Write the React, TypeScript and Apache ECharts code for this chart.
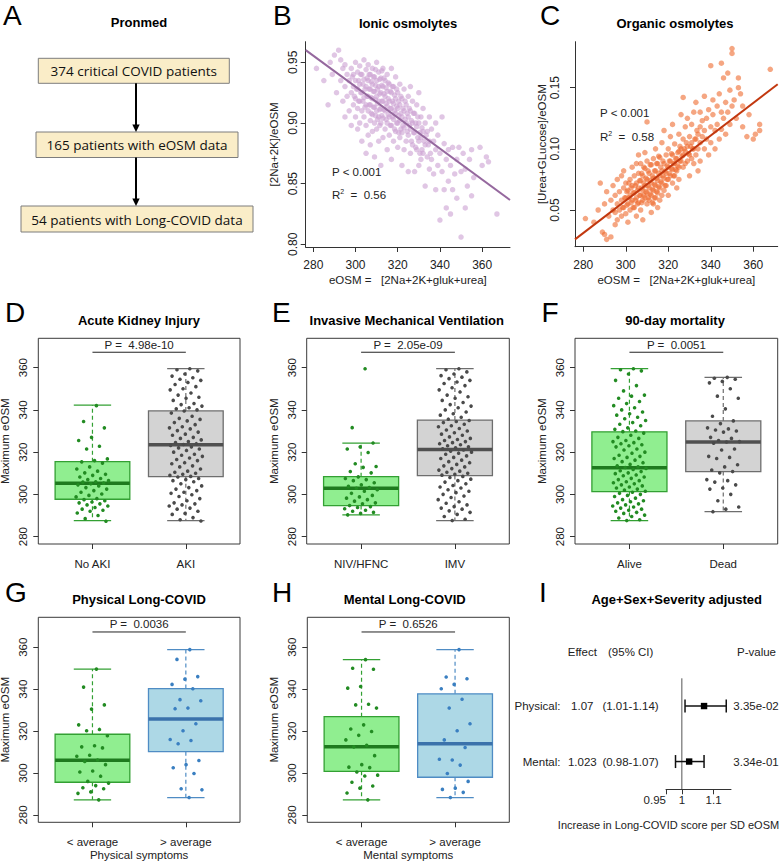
import React, { useEffect, useRef } from "react";
import * as echarts from "echarts";

const FONT = '"Liberation Sans", Arial, Helvetica, sans-serif';
const TXT = "#222222";

// ---------- Panel A ----------
const flowSteps = ["374 critical COVID patients", "165 patients with eOSM data", "54 patients with Long-COVID data"];
const panelLetters = ["A", "B", "C", "D", "E", "F", "G", "H", "I"];
const panelTitles = [
  "Pronmed",
  "Ionic osmolytes",
  "Organic osmolytes",
  "Acute Kidney Injury",
  "Invasive Mechanical Ventilation",
  "90-day mortality",
  "Physical Long-COVID",
  "Mental Long-COVID",
  "Age+Sex+Severity adjusted",
];

// ---------- Panels B, C ----------
const eosmTicks = [280, 300, 320, 340, 360];
const ionicTicks = [0.8, 0.85, 0.9, 0.95];
const organicTicks = [0.05, 0.1, 0.15];
const eosmAxisName = "eOSM =   [2Na+2K+gluk+urea]";
const ionicYName = "[2Na+2K]/eOSM";
const organicYName = "[Urea+GLucose]/eOSM";

const ionicPoints: number[][] = [
  [281.5,0.945],[285,0.935],[287,0.915],[288,0.95],[289,0.94],[290,0.956],[291,0.925],[292,0.96],[293,0.952],[293,0.935],[294,0.945],[294,0.918],[295,0.93],[295,0.948],[295,0.905],[296,0.94],[296,0.922],
  [297,0.935],[297,0.91],[298,0.945],[298,0.925],[298,0.898],[299,0.94],[299,0.93],[299,0.915],[300,0.95],[300,0.935],[300,0.92],[300,0.905],[301,0.942],[301,0.928],[301,0.912],[301,0.895],[302,0.947],[302,0.932],[302,0.918],[302,0.9],[303,0.94],[303,0.925],[303,0.91],[303,0.885],[304,0.952],[304,0.936],[304,0.921],[304,0.905],[305,0.944],[305,0.93],[305,0.915],[305,0.898],[305,0.875],
  [306,0.948],[306,0.935],[306,0.922],[306,0.91],[306,0.89],[307,0.94],[307,0.928],[307,0.915],[307,0.902],[307,0.882],[308,0.945],[308,0.932],[308,0.92],[308,0.907],[308,0.893],[309,0.938],[309,0.926],[309,0.913],[309,0.9],[309,0.872],[310,0.95],[310,0.935],[310,0.922],[310,0.91],[310,0.895],[311,0.942],[311,0.93],[311,0.918],[311,0.905],[311,0.885],[312,0.937],[312,0.925],[312,0.912],[312,0.9],[312,0.865],[313,0.945],[313,0.93],[313,0.918],[313,0.904],[313,0.888],[314,0.935],[314,0.922],[314,0.91],[314,0.895],[315,0.94],[315,0.926],[315,0.914],[315,0.9],[315,0.878],
  [316,0.932],[316,0.918],[316,0.905],[316,0.89],[317,0.945],[317,0.925],[317,0.912],[317,0.898],[317,0.87],[318,0.93],[318,0.916],[318,0.903],[318,0.885],[319,0.938],[319,0.92],[319,0.908],[319,0.893],[320,0.925],[320,0.912],[320,0.9],[320,0.88],[321,0.932],[321,0.915],[321,0.902],[321,0.888],[322,0.92],[322,0.905],[322,0.892],[322,0.865],[323,0.928],[323,0.91],[323,0.896],[323,0.878],[324,0.915],[324,0.9],[324,0.885],[325,0.922],[325,0.905],[325,0.89],[325,0.86],
  [326,0.93],[326,0.91],[326,0.895],[326,0.875],[327,0.918],[327,0.9],[327,0.882],[328,0.908],[328,0.892],[328,0.86],[329,0.915],[329,0.897],[329,0.878],[330,0.925],[330,0.9],[330,0.885],[330,0.865],[331,0.905],[331,0.888],[331,0.87],[332,0.912],[332,0.893],[332,0.875],[333,0.9],[333,0.882],[333,0.848],[334,0.893],[334,0.872],[335,0.905],[335,0.885],[335,0.862],
  [336,0.895],[336,0.87],[337,0.885],[337,0.858],[338,0.9],[338,0.878],[338,0.845],[339,0.89],[339,0.865],[340,0.875],[340,0.82],[341,0.905],[341,0.86],[342,0.883],[342,0.845],[343,0.87],[343,0.83],[344,0.878],[344,0.852],[345,0.865],[345,0.825],
  [346,0.88],[346,0.845],[347,0.858],[348,0.87],[348,0.838],[349,0.88],[350,0.806],[350,0.86],[351,0.875],[352,0.83],[352,0.862],[353,0.848],[354,0.87],[355,0.878],[355,0.84],[356,0.855],[359,0.88],[360,0.865],[362,0.872],[363,0.868],[367,0.825],
  [298.5,0.938],[299.5,0.922],[300.5,0.928],[301.5,0.935],[301.5,0.918],[302.5,0.925],[302.5,0.94],[303.5,0.932],[303.5,0.918],[304.5,0.928],[304.5,0.913],[305.5,0.937],[305.5,0.922],[306.5,0.928],[306.5,0.94],[306.5,0.915],[307.5,0.934],[307.5,0.921],[307.5,0.908],[308.5,0.938],[308.5,0.926],[308.5,0.913],[309.5,0.944],[309.5,0.931],[309.5,0.919],[309.5,0.906],[310.5,0.928],[310.5,0.916],[310.5,0.903],[311.5,0.936],[311.5,0.924],[311.5,0.911],[311.5,0.898],[312.5,0.943],[312.5,0.931],[312.5,0.918],[312.5,0.906],[313.5,0.937],[313.5,0.924],[313.5,0.911],[314.5,0.929],[314.5,0.916],[314.5,0.903],[315.5,0.933],[315.5,0.92],[315.5,0.907],[316.5,0.926],[316.5,0.912],[316.5,0.898],[317.5,0.93],[317.5,0.918],[317.5,0.905],[318.5,0.923],[318.5,0.91],[318.5,0.895],[319.5,0.928],[319.5,0.914],[319.5,0.9],[320.5,0.918],[320.5,0.906],[320.5,0.892],[321.5,0.922],[321.5,0.908],[321.5,0.895],[322.5,0.912],[322.5,0.898],[323.5,0.918],[323.5,0.903],[324.5,0.908],[324.5,0.893],[325.5,0.912],[325.5,0.898],[326.5,0.902],[326.5,0.885],[327.5,0.908],[327.5,0.892],[328.5,0.9],[328.5,0.88],[329.5,0.888],[329.5,0.905],[330.5,0.892],[330.5,0.875],[331.5,0.896],[331.5,0.878],[332.5,0.885],[333.5,0.89],[334.5,0.882],[335.5,0.875],
];

const organicPoints: number[][] = [
  [281,0.043],[285,0.04],[287,0.05],[288,0.072],[289,0.032],[290,0.03],[290,0.055],[291,0.026],[291,0.065],[292,0.045],[293,0.028],[293,0.058],[294,0.05],[294,0.07],[295,0.038],[295,0.062],[295,0.048],
  [296,0.055],[296,0.075],[296,0.042],[297,0.065],[297,0.05],[298,0.058],[298,0.078],[298,0.045],[299,0.068],[299,0.052],[299,0.082],[300,0.06],[300,0.047],[300,0.072],[301,0.055],[301,0.066],[301,0.04],[302,0.062],[302,0.075],[302,0.05],[303,0.058],[303,0.07],[303,0.085],[304,0.052],[304,0.064],[304,0.078],[305,0.06],[305,0.072],[305,0.045],[305,0.088],
  [306,0.056],[306,0.068],[306,0.08],[306,0.095],[307,0.062],[307,0.074],[307,0.05],[307,0.088],[308,0.066],[308,0.058],[308,0.078],[308,0.042],[309,0.07],[309,0.06],[309,0.084],[309,0.097],[310,0.064],[310,0.075],[310,0.055],[310,0.122],[310,0.09],[311,0.068],[311,0.08],[311,0.058],[312,0.072],[312,0.062],[312,0.087],[312,0.048],[313,0.076],[313,0.066],[313,0.092],[313,0.055],[314,0.07],[314,0.082],[314,0.06],[314,0.1],[315,0.074],[315,0.064],[315,0.088],[315,0.052],
  [316,0.078],[316,0.068],[316,0.093],[316,0.058],[317,0.082],[317,0.072],[317,0.105],[317,0.062],[318,0.076],[318,0.088],[318,0.066],[318,0.115],[319,0.08],[319,0.095],[319,0.07],[320,0.085],[320,0.075],[320,0.1],[320,0.062],[321,0.09],[321,0.078],[321,0.11],[322,0.083],[322,0.095],[322,0.072],[322,0.12],[323,0.088],[323,0.078],[323,0.104],[324,0.092],[324,0.082],[324,0.068],[325,0.098],[325,0.085],[325,0.112],[325,0.075],
  [326,0.09],[326,0.1],[326,0.128],[327,0.095],[327,0.085],[327,0.142],[327,0.108],[328,0.098],[328,0.088],[328,0.118],[329,0.102],[329,0.09],[329,0.125],[330,0.095],[330,0.11],[330,0.078],[331,0.105],[331,0.12],[331,0.092],[332,0.1],[332,0.13],[332,0.088],[333,0.108],[333,0.095],[333,0.138],[334,0.112],[334,0.1],[334,0.082],[335,0.118],[335,0.105],[335,0.09],[335,0.13],
  [336,0.11],[336,0.123],[337,0.143],[337,0.1],[337,0.115],[338,0.125],[338,0.108],[339,0.132],[339,0.095],[340,0.168],[340,0.118],[340,0.105],[341,0.128],[341,0.14],[342,0.115],[342,0.1],[343,0.135],[343,0.12],[344,0.145],[344,0.108],[345,0.17],[345,0.13],[345,0.116],
  [346,0.158],[346,0.125],[347,0.138],[347,0.112],[348,0.162],[348,0.13],[349,0.148],[349,0.12],[350,0.182],[350,0.178],[350,0.135],[351,0.14],[352,0.125],[353,0.158],[353,0.15],[354,0.145],[355,0.118],[355,0.135],[357,0.11],[358,0.128],[360,0.108],[361,0.112],[363,0.12],[363,0.115],[368,0.165],
  [298.5,0.052],[299.5,0.06],[300.5,0.065],[300.5,0.054],[301.5,0.06],[301.5,0.072],[302.5,0.056],[302.5,0.068],[303.5,0.064],[303.5,0.052],[304.5,0.058],[304.5,0.07],[305.5,0.066],[305.5,0.055],[306.5,0.062],[306.5,0.074],[307.5,0.056],[307.5,0.068],[307.5,0.08],[308.5,0.072],[308.5,0.062],[308.5,0.085],[309.5,0.065],[309.5,0.076],[310.5,0.07],[310.5,0.06],[310.5,0.082],[311.5,0.063],[311.5,0.074],[311.5,0.087],[312.5,0.067],[312.5,0.078],[312.5,0.056],[313.5,0.071],[313.5,0.082],[313.5,0.06],[314.5,0.076],[314.5,0.065],[314.5,0.088],[315.5,0.08],[315.5,0.069],[315.5,0.094],[316.5,0.073],[316.5,0.085],[317.5,0.078],[317.5,0.09],[318.5,0.082],[318.5,0.07],[319.5,0.086],[319.5,0.075],[320.5,0.09],[320.5,0.08],[321.5,0.084],[321.5,0.096],[322.5,0.088],[322.5,0.078],[323.5,0.092],[323.5,0.083],[324.5,0.097],[324.5,0.086],[325.5,0.09],[325.5,0.102],[326.5,0.094],[327.5,0.1],[328.5,0.105],[329.5,0.096],[330.5,0.102],[331.5,0.1],[332.5,0.108],[333.5,0.115],
];

// regression: [intercept, slope]
const ionicFit = [1.3127, -0.001276];
const organicFit = [-0.34094, 0.001329];
const ionicP = "P < 0.001";
const ionicR2 = "0.56";
const organicP = "P < 0.001";
const organicR2 = "0.58";

// ---------- Panels D - H ----------
const eosmBoxTicks = [280, 300, 320, 340, 360];
const pBracketLevel = 367.3;

const akiCats = ["No AKI", "AKI"];
const akiBoxes = [[287.6, 297.7, 305.3, 315.5, 342.3], [287.6, 308.4, 323.5, 339.5, 359.5]];
const akiNo = [342,334.5,331.5,327,325.5,322.8,321.5,316.8,316,315.4,314.8,313,312,311,310.2,309.5,309,308.2,307.5,307,306.5,306,305.8,305.3,305,304.5,304,303.2,302.5,301.8,301,300.2,299.5,298.8,298,297.5,297,296.4,296,295.5,295,294.5,293.8,293,292.5,292,291.2,290,288.5,287.3];
const akiYes = [359.5,359,358.5,357,356,355.2,354.5,354,353,352,351,350,349.5,348,347,346,345.5,344.5,343,342.5,341.8,341,340.5,340,
  339.5,338.5,337,336,335.5,334.8,334,333,332,331.5,331,330.2,329.5,328.5,328,327,326.5,325.8,325,324.5,324,323.6,
  323.2,322.5,322,321.5,320.8,320,319,318.5,318,317.2,316.5,316,315,314.5,313.5,313,312,311,310.5,310,309.5,309,308.5,
  308.2,307.5,307,306.5,306,305,304,303.2,302.5,301.8,301,300.5,299.8,299,298,297,296,295.5,295,294.5,293.5,293,292,291,290.5,289,288,287.4];
const akiP = "4.98e-10";

const imvCats = ["NIV/HFNC", "IMV"];
const imvBoxes = [[290.3, 294.7, 302.9, 308.4, 324.3], [287.6, 308.9, 321.3, 335.2, 359.5]];
const imvNo = [359.5,331.6,324.3,322.5,321.5,319.8,314.5,313.2,312.8,310.8,310.2,308.3,307.5,307,306.5,305.5,304.5,303.8,303.2,302.9,302.2,301.5,300.5,299.5,298.8,298.2,297.5,296.8,296,295.5,294.7,294.2,293.8,293.2,292.5,292,291.5,291,290.3];
const imvYes = [359.5,359,358,357,356.2,355.5,354.8,354,353.2,352.5,351.5,350.5,349.5,348.5,347,346.2,345.5,344.5,343.5,342.5,341.8,341,340,339,338.2,337.5,336.5,335.6,
  335,334.5,334,333.2,332.5,332,331.2,330.5,330,329.2,328.5,328,327.2,326.5,326,325.5,325,324.5,324,323.5,323,322.5,322,321.6,
  321,320.5,320,319.5,319,318.2,317.5,317,316.2,315.5,315,314.2,313.5,313,312.2,311.5,311,310.5,310,309.5,309.1,
  308.5,308,307.2,306.5,305.8,305,304.2,303.5,303,302.2,301.5,300.8,300,299.2,298.5,297.5,296.5,295.8,295,294.2,293.5,293,292.2,291.5,290.5,289.5,288.2,287.6];
const imvP = "2.05e-09";

const mortCats = ["Alive", "Dead"];
const mortBoxes = [[287.6, 301.3, 312.6, 329.6, 359.5], [291.8, 310.8, 324.8, 334.8, 355.4]];
const mortAlive = [359.5,359,358.5,357,354,351.5,349,347,346.5,345.5,344,343,342,341,340,339,338.2,337.5,336.5,335.8,335,334,333.2,332.5,331.5,330.8,330,329.7,
  329,328,327,326.5,325.5,325,324.5,324,323.5,323,322.5,321.5,321,320,319.5,318.5,318,317.5,317,316.2,315.5,315,314.2,313.5,313,312.7,
  312.3,311.8,311.2,310.8,310.2,309.8,309.2,308.8,308.2,307.6,307,306.5,306,305.5,305,304.5,304,303.5,303,302.5,302,301.5,
  301,300.5,300,299.5,299,298.2,297.5,297,296.5,296,295.5,295,294.5,294,293.5,293,292.5,292,291.5,291,290.2,289.5,288.8,288,287.6];
const mortDead = [355.4,355,354.5,353.5,352.8,350,346.5,345.5,340.5,337,334.8,333.5,331.5,331,330.5,330,329.5,327,326.5,325.5,325,324.8,324.2,321.5,321,318,317.5,317,314,313,311.5,310.8,310.2,307,306.5,305.8,304.5,303,302.5,300,297,294,293,291.8];
const mortP = "0.0051";

const longCats = ["< average", "> average"];
const physBoxes = [[287.2, 295.6, 306.1, 318.5, 349.6], [288.3, 310.2, 325.8, 340.3, 358.9]];
const physLow = [349.6,341,332.5,330.5,323,320.8,320.2,317.8,313,312.5,312,308.5,308,306.2,305.5,304,301,300.5,298.5,296,295.2,294,293,292.5,291,290.3,287.2];
const physHigh = [358.9,354.2,346,344.8,342.3,340.2,335,334.5,331,330.7,323.5,320.2,316,315.5,314,306,304,302.5,299.8,292.5,292,288.3];
const physP = "0.0036";
const physXName = "Physical symptoms";

const mentBoxes = [[287.2, 300.8, 312.6, 326.9, 354.1], [288.3, 298.0, 314.0, 337.8, 358.9]];
const mentLow = [354.1,350,349.5,341.3,340.5,332.8,332.5,331,323,321,319.8,318,315.8,313.2,312.5,308.3,304,302.8,302.6,300.5,299,298.6,295.6,293.8,292.8,290.5,287.2];
const mentHigh = [358.9,345.8,345,342.3,340.2,335.2,331,323.5,320.2,315.8,312.2,306.2,306.6,303.8,299.8,296,292.8,292.2,290.8,288.3];
const mentP = "0.6526";
const mentXName = "Mental symptoms";

// ---------- Panel I ----------
const forestLabels = ["Physical:", "Mental:"];
const forestEffect = [1.07, 1.023];
const forestEffectText = ["1.07", "1.023"];
const forestLow = [1.01, 0.98];
const forestHigh = [1.14, 1.07];
const forestCI = ["(1.01-1.14)", "(0.98-1.07)"];
const forestP = ["3.35e-02", "3.34e-01"];
const forestTicks = [0.95, 1, 1.1];
const forestHeader = ["Effect", "(95% CI)", "P-value"];
const forestXName = "Increase in Long-COVID score per SD eOSM";

// ---------- styling ----------
const GREEN = { fill: "#90EE90", border: "#33A033", median: "#1E7A1E", point: "#228B22" };
const GRAY = { fill: "#D3D3D3", border: "#6E6E6E", median: "#505050", point: "#4A4A4A" };
const BLUE = { fill: "#ADD8E6", border: "#4F8CC4", median: "#3B72AB", point: "#3A7FC1" };

const LAYOUT: any = {
  B: { left: 305.7, top: 41.7, width: 204.3, height: 205.3, x: [276.4, 373.2], y: [0.7978, 0.967] },
  C: { left: 575, top: 41.7, width: 202.7, height: 205, x: [276.1, 371.5], y: [0.02, 0.1876] },
  D: { left: 38.3, top: 338.3, width: 201.7, height: 205.7, y: [276.5, 373.9] },
  E: { left: 306.7, top: 338.3, width: 202.6, height: 205.7, y: [276.5, 373.9] },
  F: { left: 575, top: 338.3, width: 202.7, height: 205.7, y: [276.5, 373.9] },
  G: { left: 38.3, top: 617.3, width: 201.7, height: 205, y: [276.5, 374.3] },
  H: { left: 307.3, top: 617.3, width: 202, height: 205, y: [276.5, 374.3] },
  I: { left: 666, top: 678.3, width: 65, height: 111, x: [0.95, 1.155], y: [0, 4] },
};

const jitter = (i: number) => ((((i + 1) * 0.6180339887) % 1) - 0.5) * 0.36;

function txt(text: string, x: number, y: number, size: number, opts: any = {}) {
  const align = opts.align || "left";
  const valign = opts.valign || "middle";
  return {
    type: "text",
    x,
    y,
    silent: true,
    style: {
      text,
      font: `${opts.bold ? "bold " : ""}${size}px ${opts.font || FONT}`,
      fill: opts.color || TXT,
      align,
      verticalAlign: valign,
      textAlign: align,
      textVerticalAlign: valign,
      rich: opts.rich,
    },
  };
}

function gridOf(l: any, frame: boolean) {
  return {
    left: l.left,
    top: l.top,
    width: l.width,
    height: l.height,
    show: frame,
    borderColor: "#3a3a3a",
    borderWidth: 1,
    backgroundColor: "transparent",
    containLabel: false,
    outerBoundsMode: "none",
  };
}

const tickStyle = { color: "#333", width: 1 };

export default function App() {
  const ref = useRef<HTMLDivElement>(null);

  useEffect(() => {
    if (!ref.current) return;
    const chart = echarts.init(ref.current, undefined, { renderer: "svg" });

    const grids: any[] = [];
    const xAxes: any[] = [];
    const yAxes: any[] = [];
    const series: any[] = [];

    // ---- scatter panels ----
    const scatterPanel = (key: string, pts: number[][], fit: number[], yTicks: number[], yName: string,
      color: string, lineColor: string, yLabelMargin: number, yNameGap: number) => {
      const l = LAYOUT[key];
      const gi = grids.length;
      grids.push(gridOf(l, false));
      xAxes.push({
        gridIndex: gi, type: "value", min: l.x[0], max: l.x[1],
        splitLine: { show: false },
        axisLine: { show: true, onZero: false, lineStyle: tickStyle },
        axisTick: { show: true, customValues: eosmTicks, length: 5, lineStyle: tickStyle },
        axisLabel: { customValues: eosmTicks, fontSize: 12, color: TXT, margin: 12, fontFamily: FONT },
        name: eosmAxisName, nameLocation: "middle", nameGap: 27,
        nameTextStyle: { fontSize: 11.5, color: TXT, fontFamily: FONT },
      });
      yAxes.push({
        gridIndex: gi, type: "value", min: l.y[0], max: l.y[1],
        splitLine: { show: false },
        axisLine: { show: true, onZero: false, lineStyle: tickStyle },
        axisTick: { show: true, customValues: yTicks, length: 5, lineStyle: tickStyle },
        axisLabel: { customValues: yTicks, rotate: 90, fontSize: 12, color: TXT, margin: yLabelMargin, fontFamily: FONT,
          formatter: (v: number) => v.toFixed(2) },
        name: yName, nameLocation: "middle", nameRotate: 90, nameGap: yNameGap,
        nameTextStyle: { fontSize: 11.5, color: TXT, fontFamily: FONT },
      });
      series.push({
        type: "scatter", xAxisIndex: gi, yAxisIndex: gi, data: pts, symbolSize: 5.5, silent: true,
        itemStyle: { color, opacity: 0.6 }, z: 2,
      });
      series.push({
        type: "line", xAxisIndex: gi, yAxisIndex: gi, showSymbol: false, silent: true, z: 3,
        data: [[l.x[0], fit[0] + fit[1] * l.x[0]], [l.x[1], fit[0] + fit[1] * l.x[1]]],
        lineStyle: { color: lineColor, width: 2 },
      });
    };
    scatterPanel("B", ionicPoints, ionicFit, ionicTicks, ionicYName, "#CBA0D2", "#95689E", 7, 26);
    scatterPanel("C", organicPoints, organicFit, organicTicks, organicYName, "#EF6A2E", "#C2380F", 14, 26);

    // ---- box panels ----
    const boxPanel = (key: string, cats: string[], boxes: number[][], groups: number[][], pals: any[], p: string, xName?: string) => {
      const l = LAYOUT[key];
      const gi = grids.length;
      grids.push(gridOf(l, true));
      xAxes.push({
        gridIndex: gi, type: "value", min: 0.42, max: 2.58,
        splitLine: { show: false },
        axisLine: { show: false },
        axisTick: { show: true, customValues: [1, 2], length: 5, lineStyle: tickStyle },
        axisLabel: { customValues: [1, 2], fontSize: 11.5, color: TXT, margin: 14, fontFamily: FONT,
          formatter: (v: number) => cats[Math.round(v) - 1] },
        name: xName || "", nameLocation: "middle", nameGap: 27,
        nameTextStyle: { fontSize: 11.5, color: TXT, fontFamily: FONT },
      });
      yAxes.push({
        gridIndex: gi, type: "value", min: l.y[0], max: l.y[1],
        splitLine: { show: false },
        axisLine: { show: false },
        axisTick: { show: true, customValues: eosmBoxTicks, length: 5, lineStyle: tickStyle },
        axisLabel: { customValues: eosmBoxTicks, rotate: 90, fontSize: 11.5, color: TXT, margin: 9, fontFamily: FONT },
        name: "Maximum eOSM", nameLocation: "middle", nameRotate: 90, nameGap: 27,
        nameTextStyle: { fontSize: 11.5, color: TXT, fontFamily: FONT },
      });
      series.push({
        type: "custom", xAxisIndex: gi, yAxisIndex: gi, silent: true, z: 2,
        data: boxes.map((b, i) => [i + 1, ...b]),
        encode: { x: 0, y: [1, 2, 3, 4, 5] },
        renderItem: (params: any, api: any) => {
          const pos = api.value(0);
          const pal = pals[params.dataIndex];
          const yOf = (v: number) => api.coord([pos, v])[1];
          const cx = api.coord([pos, api.value(3)])[0];
          const hw = api.size([0.4, 0])[0];
          const sw = api.size([0.2, 0])[0];
          const yLo = yOf(api.value(1)), yQ1 = yOf(api.value(2)), yMed = yOf(api.value(3)), yQ3 = yOf(api.value(4)), yHi = yOf(api.value(5));
          const dashed = { stroke: pal.border, lineWidth: 1.2, lineDash: [4, 3] };
          const solid = { stroke: pal.border, lineWidth: 1.3 };
          return {
            type: "group",
            children: [
              { type: "line", shape: { x1: cx, y1: yQ3, x2: cx, y2: yHi }, style: dashed },
              { type: "line", shape: { x1: cx, y1: yQ1, x2: cx, y2: yLo }, style: dashed },
              { type: "line", shape: { x1: cx - sw, y1: yHi, x2: cx + sw, y2: yHi }, style: solid },
              { type: "line", shape: { x1: cx - sw, y1: yLo, x2: cx + sw, y2: yLo }, style: solid },
              { type: "rect", shape: { x: cx - hw, y: yQ3, width: 2 * hw, height: yQ1 - yQ3 }, style: { fill: pal.fill, stroke: pal.border, lineWidth: 1.3 } },
              { type: "line", shape: { x1: cx - hw, y1: yMed, x2: cx + hw, y2: yMed }, style: { stroke: pal.median, lineWidth: 3.5 } },
            ],
          };
        },
      });
      groups.forEach((vals, g) => {
        series.push({
          type: "scatter", xAxisIndex: gi, yAxisIndex: gi, silent: true, z: 4,
          symbolSize: 3.6,
          itemStyle: { color: pals[g].point, opacity: 1 },
          data: vals.map((v, i) => [g + 1 + jitter(i), v]),
        });
      });
      series.push({
        type: "custom", xAxisIndex: gi, yAxisIndex: gi, silent: true, z: 5,
        data: [[1, 2, pBracketLevel]],
        renderItem: (params: any, api: any) => {
          const a = api.coord([api.value(0), api.value(2)]);
          const b = api.coord([api.value(1), api.value(2)]);
          return {
            type: "group",
            children: [
              { type: "line", shape: { x1: a[0], y1: a[1], x2: b[0], y2: b[1] }, style: { stroke: "#222", lineWidth: 1 } },
              {
                type: "text", x: (a[0] + b[0]) / 2, y: a[1] - 1.5,
                style: { text: "P =  " + p, font: `11.5px ${FONT}`, fill: TXT, align: "center", verticalAlign: "bottom", textAlign: "center", textVerticalAlign: "bottom" },
              },
            ],
          };
        },
      });
    };
    boxPanel("D", akiCats, akiBoxes, [akiNo, akiYes], [GREEN, GRAY], akiP);
    boxPanel("E", imvCats, imvBoxes, [imvNo, imvYes], [GREEN, GRAY], imvP);
    boxPanel("F", mortCats, mortBoxes, [mortAlive, mortDead], [GREEN, GRAY], mortP);
    boxPanel("G", longCats, physBoxes, [physLow, physHigh], [GREEN, BLUE], physP, physXName);
    boxPanel("H", longCats, mentBoxes, [mentLow, mentHigh], [GREEN, BLUE], mentP, mentXName);

    // ---- forest panel ----
    {
      const l = LAYOUT.I;
      const gi = grids.length;
      grids.push(gridOf(l, false));
      xAxes.push({
        gridIndex: gi, type: "value", min: l.x[0], max: l.x[1],
        splitLine: { show: false },
        axisLine: { show: true, onZero: false, lineStyle: tickStyle },
        axisTick: { show: true, customValues: forestTicks, length: 5, lineStyle: tickStyle },
        axisLabel: { customValues: forestTicks, fontSize: 11.5, color: TXT, margin: 5, fontFamily: FONT,
          alignMinLabel: "right",
          formatter: (v: number) => String(v) },
      });
      yAxes.push({ gridIndex: gi, type: "value", min: l.y[0], max: l.y[1], show: false });
      series.push({
        type: "line", xAxisIndex: gi, yAxisIndex: gi, showSymbol: false, silent: true, z: 2,
        data: [[1, l.y[0]], [1, l.y[1]]],
        lineStyle: { color: "#555", width: 1 },
      });
      series.push({
        type: "custom", xAxisIndex: gi, yAxisIndex: gi, silent: true, z: 3,
        data: forestEffect.map((e, i) => [e, forestLow[i], forestHigh[i], 3 - 2 * i]),
        encode: { x: [0, 1, 2], y: 3 },
        renderItem: (params: any, api: any) => {
          const i = params.dataIndex;
          const row = api.value(3);
          const pe = api.coord([api.value(0), row]);
          const pl = api.coord([api.value(1), row]);
          const ph = api.coord([api.value(2), row]);
          const y = pe[1];
          const f = `11.5px ${FONT}`;
          const t = (text: string, x: number, align: string) => ({
            type: "text", x, y,
            style: { text, font: f, fill: TXT, align, verticalAlign: "middle", textAlign: align, textVerticalAlign: "middle" },
          });
          const ls = { stroke: "#111", lineWidth: 1.5 };
          return {
            type: "group",
            children: [
              { type: "line", shape: { x1: pl[0], y1: y, x2: ph[0], y2: y }, style: ls },
              { type: "line", shape: { x1: pl[0], y1: y - 6.5, x2: pl[0], y2: y + 6.5 }, style: ls },
              { type: "line", shape: { x1: ph[0], y1: y - 6.5, x2: ph[0], y2: y + 6.5 }, style: ls },
              { type: "rect", shape: { x: pe[0] - 3.2, y: y - 3.2, width: 6.4, height: 6.4 }, style: { fill: "#000" } },
              t(forestLabels[i], 560.5, "right"),
              t(forestEffectText[i], 582.3, "center"),
              t(forestCI[i], 630.5, "center"),
              t(forestP[i], 756, "center"),
            ],
          };
        },
      });
    }

    // ---- graphic: letters, titles, flowchart, annotations ----
    const letterPos = [[3, 15], [273, 15], [540, 15], [5, 312], [272, 312], [541.5, 312], [5, 592], [272, 592], [539, 592]];
    const titlePos = [[139, 22.5], [408, 23], [675, 23], [139, 320], [406.7, 320], [675, 320], [139, 599.5], [404.7, 599.5], [676.7, 599.5]];
    const graphics: any[] = [];
    panelLetters.forEach((s, i) => graphics.push(txt(s, letterPos[i][0], letterPos[i][1], 28, { color: "#000" })));
    panelTitles.forEach((s, i) => graphics.push(txt(s, titlePos[i][0], titlePos[i][1], 13, { bold: true, align: "center", color: "#000" })));

    const boxesA = [[38.3, 58.3, 191, 25], [36, 132, 202, 25.5], [21, 206, 232, 26]];
    flowSteps.forEach((s, i) => {
      const b = boxesA[i];
      graphics.push({ type: "rect", silent: true, shape: { x: b[0], y: b[1], width: b[2], height: b[3] }, style: { fill: "#FAEDC8", stroke: "#7d7d7d", lineWidth: 1 } });
      graphics.push(txt(s, b[0] + b[2] / 2, b[1] + b[3] / 2 + 0.5, 13.5, { align: "center", font: '"Open Sans", "Noto Sans", sans-serif', color: "#111" }));
    });
    for (let i = 0; i < 2; i++) {
      const y1 = boxesA[i][1] + boxesA[i][3];
      const y2 = boxesA[i + 1][1];
      graphics.push({ type: "line", silent: true, shape: { x1: 136, y1, x2: 136, y2: y2 - 6 }, style: { stroke: "#000", lineWidth: 2 } });
      graphics.push({ type: "polygon", silent: true, shape: { points: [[132.3, y2 - 7.5], [139.7, y2 - 7.5], [136, y2]] }, style: { fill: "#000" } });
    }

    const r2Rich = {
      r: { font: `11.5px ${FONT}`, fill: TXT },
      s: { font: `7px ${FONT}`, fill: TXT, padding: [0, 0, 7, 0] },
    };
    graphics.push(txt(ionicP, 332, 172, 11.5));
    graphics.push(txt(`{r|R}{s|2}{r|  =  ${ionicR2}}`, 332, 195, 11.5, { rich: r2Rich }));
    graphics.push(txt(organicP, 600, 113, 11.5));
    graphics.push(txt(`{r|R}{s|2}{r|  =  ${organicR2}}`, 600, 137, 11.5, { rich: r2Rich }));

    graphics.push(txt(forestHeader[0], 582.3, 652, 11.5, { align: "center" }));
    graphics.push(txt(forestHeader[1], 630.7, 652, 11.5, { align: "center" }));
    graphics.push(txt(forestHeader[2], 756.5, 652, 11.5, { align: "center" }));
    graphics.push(txt(forestXName, 668.5, 825, 11, { align: "center" }));

    chart.setOption({
      animation: false,
      backgroundColor: "#ffffff",
      textStyle: { fontFamily: FONT },
      grid: grids,
      xAxis: xAxes,
      yAxis: yAxes,
      series,
      graphic: { elements: graphics },
    });

    return () => chart.dispose();
  }, []);

  return <div ref={ref} style={{ position: "absolute", left: 0, top: 0, width: 783, height: 864 }} />;
}
